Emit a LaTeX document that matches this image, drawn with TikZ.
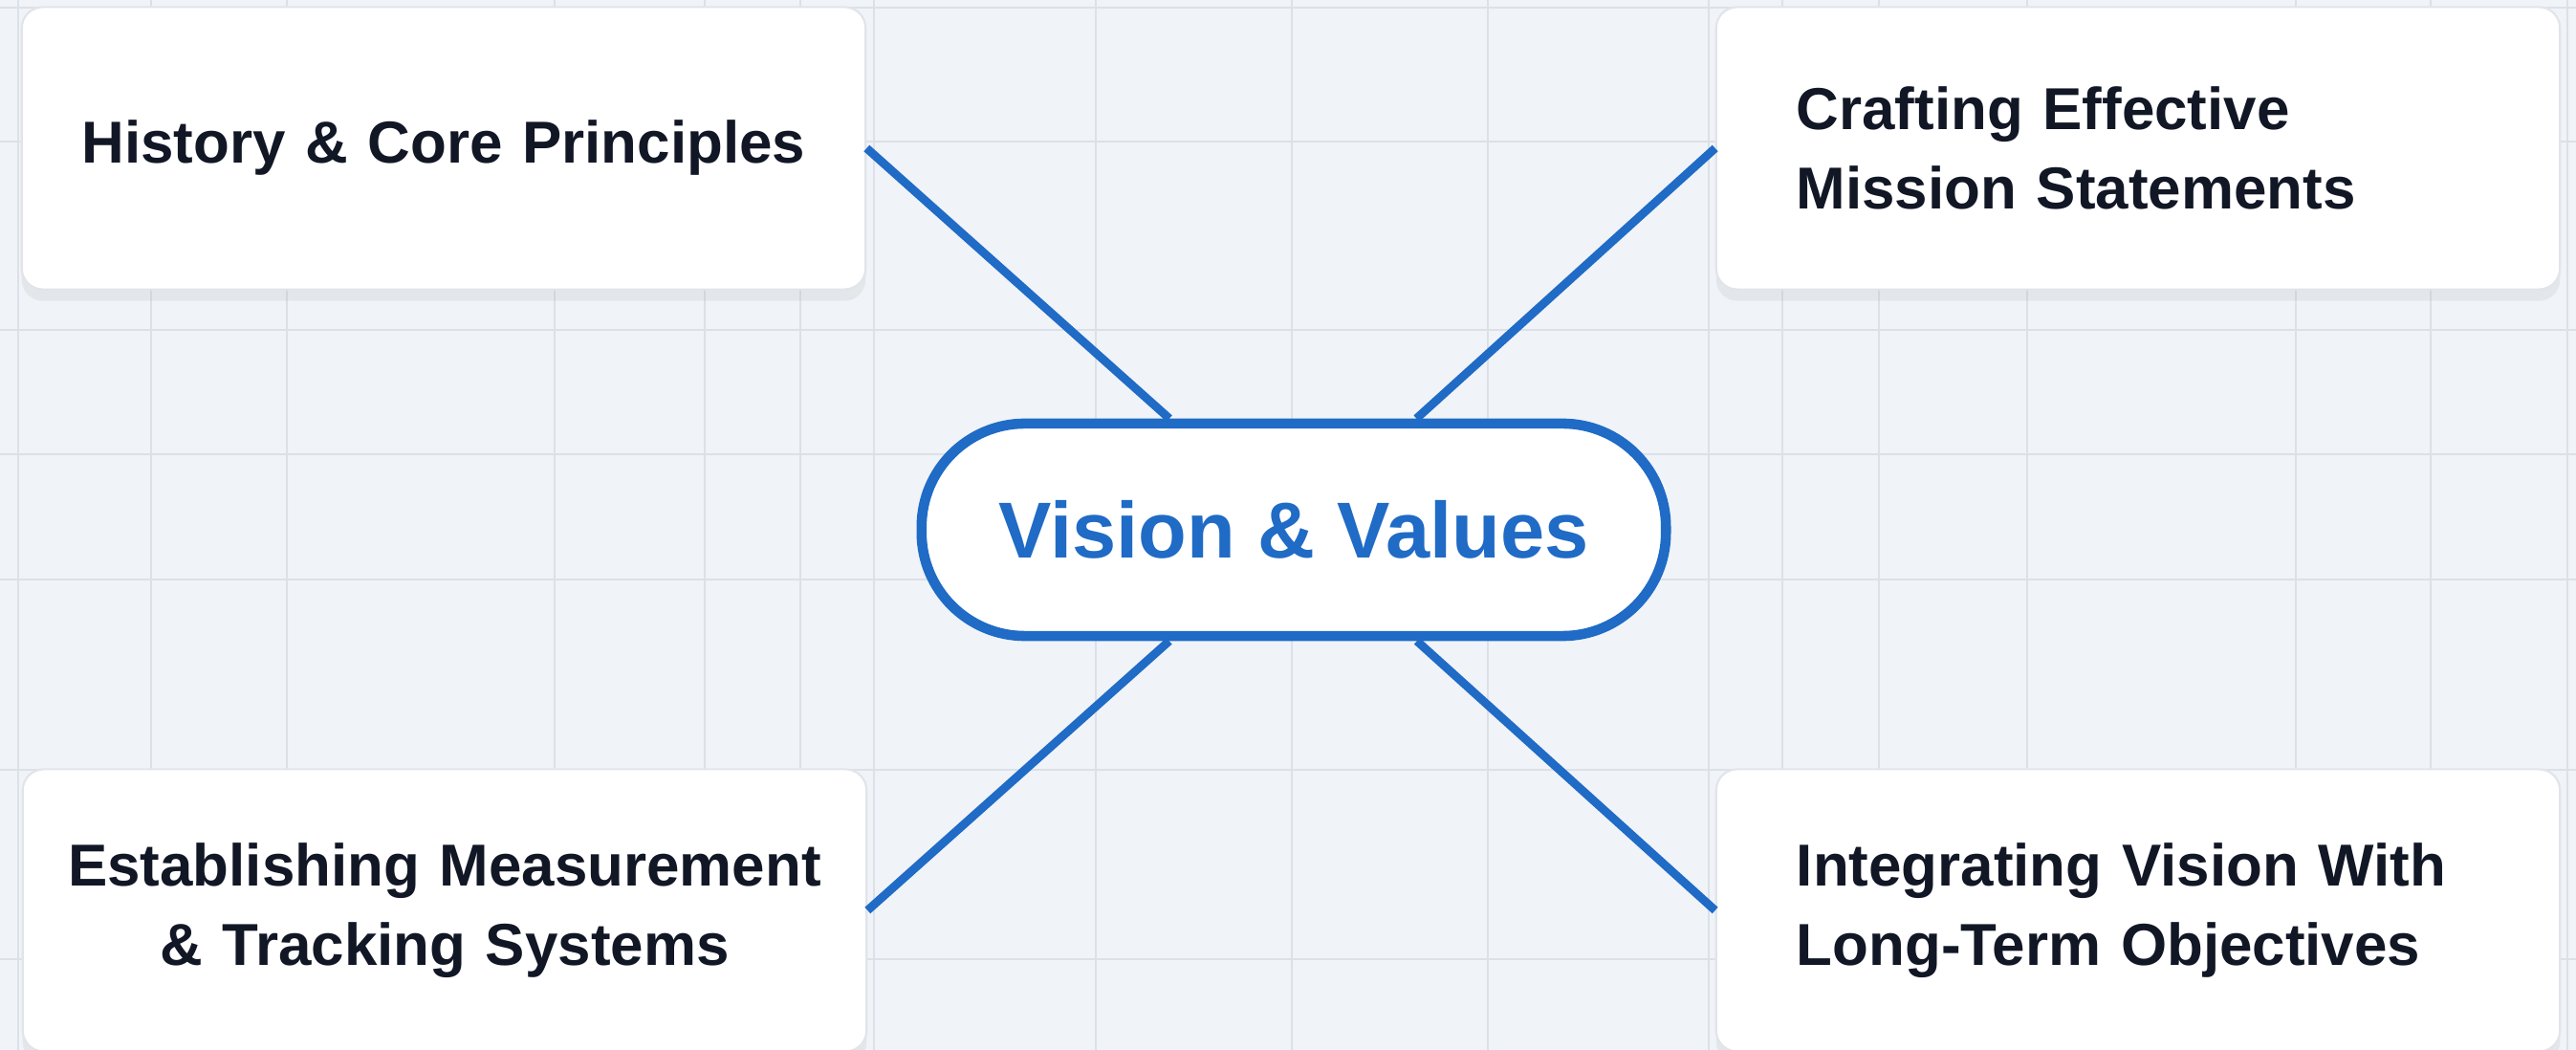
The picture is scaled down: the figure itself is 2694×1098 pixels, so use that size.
\documentclass[tikz,border=0pt]{standalone}
\usepackage{fontspec}
\setmainfont{Liberation Sans}
\usetikzlibrary{shadows}
\definecolor{canvas}{HTML}{F0F3F7}
\definecolor{gridline}{HTML}{DCE1E8}
\definecolor{cardline}{HTML}{E1E4E9}
\definecolor{inkdark}{HTML}{121726}
\definecolor{hubblue}{HTML}{1F6BC6}
\begin{document}
\begin{tikzpicture}[x=0.01cm,y=-0.01cm,
  card/.style={draw=cardline, fill=white, rounded corners=0.22cm, line width=0.6pt,
    minimum height=2.95cm, inner ysep=0pt, text width=8.2cm, inner xsep=0.31cm,
    align=center, text=inkdark, font=\fontsize{17.6}{23.5}\selectfont\bfseries,
    drop shadow={shadow xshift=0pt, shadow yshift=-0.12cm, opacity=0.1}},
  leftcard/.style={card, text width=7.14cm, inner xsep=0.84cm, align=left},
  hub/.style={draw=hubblue, line width=3pt, fill=white, rounded corners=1.08cm,
    minimum width=7.78cm, minimum height=2.22cm, inner sep=0pt, text=hubblue,
    font=\fontsize{23.6}{28}\selectfont\bfseries},
  spoke/.style={draw=hubblue, line width=2.5pt}]
\useasboundingbox (0,0) rectangle (2694,1098);
\clip (0,0) rectangle (2694,1098);
\fill[canvas] (0,0) rectangle (2694,1098);
\foreach \gx in {19,158,300,580,737,837,914,1146,1351,1556,1787,1864,1965,2120,2401,2542,2685}
  \draw[gridline, line width=0.6pt] (\gx,0) -- (\gx,1098);
\foreach \gy in {8,148,345,475,606,805,1003}
  \draw[gridline, line width=0.8pt] (0,\gy) -- (2694,\gy);

\node[hub] (vv) at (1353,554) {Vision \& Values};
\node[card] (hist) at (464,155) {History \& Core Principles};
\node[leftcard] (craft) at (2236,155) {Crafting Effective\\Mission Statements};
\node[card] (meas) at (465,952) {Establishing Measurement\\\& Tracking Systems};
\node[leftcard] (integ) at (2236,952) {Integrating Vision With\\Long-Term Objectives};

\draw[spoke] (hist.east) -- (vv);
\draw[spoke] (craft.west) -- (vv);
\draw[spoke] (meas.east) -- (vv);
\draw[spoke] (integ.west) -- (vv);
\end{tikzpicture}
\end{document}
